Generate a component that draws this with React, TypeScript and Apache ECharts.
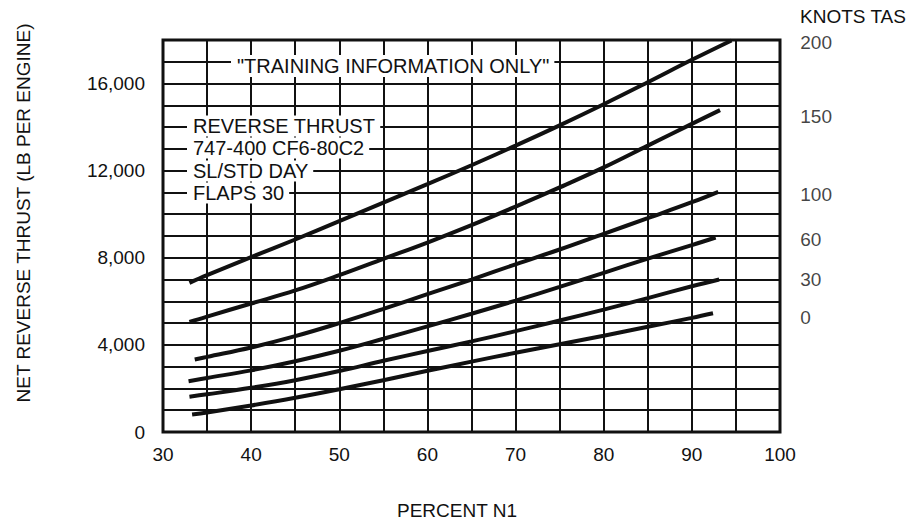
import React, { useEffect, useRef } from "react";
import * as echarts from "echarts";

// Percent N1 (x) and net reverse thrust (lb per engine) for each airspeed curve
const n1Knots200 = [33, 35, 40, 45, 50, 55, 60, 65, 70, 75, 80, 85, 90, 94.5];
const thrustKnots200 = [6850, 7200, 8030, 8840, 9680, 10530, 11380, 12250, 13150, 14080, 15050, 16060, 17090, 17980];

const n1Knots150 = [33, 35, 40, 45, 50, 55, 60, 65, 70, 75, 80, 85, 90, 93.2];
const thrustKnots150 = [5050, 5300, 5900, 6500, 7200, 7950, 8700, 9500, 10350, 11230, 12150, 13150, 14150, 14780];

const n1Knots100 = [33.6, 35, 40, 45, 50, 55, 60, 65, 70, 75, 80, 85, 90, 93];
const thrustKnots100 = [3330, 3450, 3880, 4400, 5000, 5650, 6330, 7000, 7700, 8380, 9100, 9820, 10550, 11030];

const n1Knots60 = [32.9, 35, 40, 45, 50, 55, 60, 65, 70, 75, 80, 85, 90, 92.7];
const thrustKnots60 = [2330, 2480, 2830, 3250, 3730, 4280, 4850, 5430, 6030, 6660, 7310, 7960, 8580, 8930];

const n1Knots30 = [33, 35, 40, 45, 50, 55, 60, 65, 70, 75, 80, 85, 90, 93.1];
const thrustKnots30 = [1620, 1730, 2030, 2380, 2800, 3270, 3720, 4160, 4630, 5120, 5620, 6150, 6690, 7000];

const n1Knots0 = [33.3, 35, 40, 45, 50, 55, 60, 65, 70, 75, 80, 85, 90, 92.4];
const thrustKnots0 = [800, 900, 1220, 1570, 1960, 2380, 2810, 3230, 3640, 4030, 4420, 4830, 5240, 5450];

// Curve labels on the right (knots TAS) and the thrust level each sits at
const knotsLabels = ["200", "150", "100", "60", "30", "0"];
const knotsLabelThrust = [17900, 14500, 10900, 8850, 7000, 5250];
const knotsLabelN1 = 102.3;

const annotationLines = ["REVERSE THRUST", "747-400 CF6-80C2", "SL/STD DAY", "FLAPS 30"];

const FONT = '"Liberation Sans", Arial, Helvetica, sans-serif';
const INK = "#111";

function zip(xs: number[], ys: number[]) {
  return xs.map((x, i) => [x, ys[i]]);
}

export default function App() {
  const ref = useRef<HTMLDivElement>(null);

  useEffect(() => {
    if (!ref.current) return;
    const chart = echarts.init(ref.current, undefined, { renderer: "svg" });

    const curves = [
      zip(n1Knots200, thrustKnots200),
      zip(n1Knots150, thrustKnots150),
      zip(n1Knots100, thrustKnots100),
      zip(n1Knots60, thrustKnots60),
      zip(n1Knots30, thrustKnots30),
      zip(n1Knots0, thrustKnots0),
    ];

    const lineSeries = curves.map((data, i) => ({
      type: "line",
      name: knotsLabels[i] + " KNOTS",
      data,
      smooth: 0.4,
      symbol: "none",
      lineStyle: { color: INK, width: 4 },
      z: 5,
    }));

    const annotationCenters = [126, 148, 171, 193];

    const option: any = {
      animation: false,
      backgroundColor: "#fff",
      textStyle: { fontFamily: FONT },
      grid: {
        left: 163,
        top: 40,
        width: 617,
        height: 392,
        show: true,
        borderColor: INK,
        borderWidth: 3,
        backgroundColor: "transparent",
      },
      xAxis: {
        type: "value",
        min: 30,
        max: 100,
        interval: 5,
        axisLine: { show: false },
        axisTick: { show: false },
        axisLabel: {
          color: INK,
          fontSize: 19,
          fontFamily: FONT,
          margin: 13,
          formatter: (v: number) => (v % 10 === 0 ? String(v) : ""),
        },
        splitLine: { show: true, lineStyle: { color: INK, width: 2 } },
      },
      yAxis: {
        type: "value",
        min: 0,
        max: 18000,
        interval: 1000,
        axisLine: { show: false },
        axisTick: { show: false },
        axisLabel: {
          color: INK,
          fontSize: 19,
          fontFamily: FONT,
          margin: 18,
          formatter: (v: number) => (v % 4000 === 0 ? v.toLocaleString("en-US") : ""),
        },
        splitLine: { show: true, lineStyle: { color: INK, width: 2 } },
      },
      series: [
        ...lineSeries,
        {
          type: "scatter",
          clip: false,
          symbolSize: 0,
          silent: true,
          data: knotsLabels.map((name, i) => ({ name, value: [knotsLabelN1, knotsLabelThrust[i]] })),
          label: {
            show: true,
            position: "right",
            distance: 0,
            formatter: (p: any) => p.name,
            color: INK,
            fontSize: 19,
            fontFamily: FONT,
          },
        },
      ],
      graphic: [
        {
          type: "text",
          z: 100,
          left: 800,
          top: 7,
          style: { text: "KNOTS TAS", fill: INK, font: `19px ${FONT}` },
        },
        {
          type: "text",
          z: 100,
          x: 23,
          y: 213,
          rotation: Math.PI / 2,
          style: {
            text: "NET REVERSE THRUST (LB PER ENGINE)",
            fill: INK,
            font: `19px ${FONT}`,
            align: "center",
            verticalAlign: "middle",
          },
        },
        {
          type: "text",
          z: 100,
          x: 457,
          y: 510,
          style: {
            text: "PERCENT N1",
            fill: INK,
            font: `19px ${FONT}`,
            align: "center",
            verticalAlign: "middle",
          },
        },
        {
          type: "text",
          z: 100,
          x: 231,
          y: 66,
          style: {
            text: '"TRAINING INFORMATION ONLY"',
            fill: INK,
            font: `20px ${FONT}`,
            verticalAlign: "middle",
            backgroundColor: "#fff",
            padding: [1, 5, 1, 6],
          },
        },
        ...annotationLines.map((t, i) => ({
          type: "text",
          z: 100,
          x: 187,
          y: annotationCenters[i],
          style: {
            text: t,
            fill: INK,
            font: `20px ${FONT}`,
            verticalAlign: "middle",
            backgroundColor: "#fff",
            padding: [1, 5, 0, 6],
          },
        })),
      ],
    };

    chart.setOption(option);
    return () => chart.dispose();
  }, []);

  return (
    <div
      ref={ref}
      style={{ position: "fixed", left: 0, top: 0, width: 917, height: 521, background: "#fff" }}
    />
  );
}
